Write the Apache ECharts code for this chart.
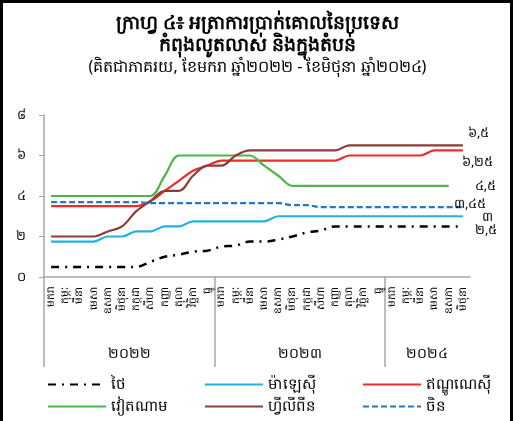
<!DOCTYPE html>
<html>
<head>
<meta charset="utf-8">
<script src="https://cdn.jsdelivr.net/npm/echarts@6/dist/echarts.min.js"></script>
<style>
  html, body { margin: 0; padding: 0; background: #fff; }
  #chart { width: 515px; height: 421px; }
</style>
</head>
<body>
<div id="chart"></div>
<script>
  // months Jan 2022 .. Jun 2024
  const monthNames = ['មករា', 'កុម្ភៈ', 'មីនា', 'មេសា', 'ឧសភា', 'មិថុនា', 'កក្កដា', 'សីហា', 'កញ្ញា', 'តុលា', 'វិច្ឆិកា', 'ធ្នូ']
  const categories = [...monthNames, ...monthNames, ...monthNames.slice(0, 6)]
  const yearLabels = ['២០២២', '២០២៣', '២០២៤']
  const yTickLabels = ['០', '២', '៤', '៦', '៨']

  const seriesNames = ['ថៃ', 'ម៉ាឡេស៊ី', 'ឥណ្ឌូណេស៊ី', 'វៀតណាម', 'ហ្វីលីពីន', 'ចិន']
  const endLabels = ['២,៥', '៣', '៦,២៥', '៤,៥', '៦,៥', '៣,៤៥']

  const thailand = [0.5, 0.5, 0.5, 0.5, 0.5, 0.5, 0.5, 0.75, 1.0, 1.1, 1.25, 1.3,
    1.5, 1.55, 1.75, 1.75, 1.85, 2.0, 2.2, 2.3, 2.5, 2.5, 2.5, 2.5,
    2.5, 2.5, 2.5, 2.5, 2.5, 2.5]
  const malaysia = [1.75, 1.75, 1.75, 1.75, 2.0, 2.0, 2.25, 2.25, 2.5, 2.5, 2.75, 2.75,
    2.75, 2.75, 2.75, 2.75, 3.0, 3.0, 3.0, 3.0, 3.0, 3.0, 3.0, 3.0,
    3.0, 3.0, 3.0, 3.0, 3.0, 3.0]
  const indonesia = [3.5, 3.5, 3.5, 3.5, 3.5, 3.5, 3.5, 3.75, 4.25, 4.75, 5.25, 5.5,
    5.75, 5.75, 5.75, 5.75, 5.75, 5.75, 5.75, 5.75, 5.75, 6.0, 6.0, 6.0,
    6.0, 6.0, 6.0, 6.25, 6.25, 6.25]
  const vietnam = [4.0, 4.0, 4.0, 4.0, 4.0, 4.0, 4.0, 4.0, 5.0, 6.0, 6.0, 6.0,
    6.0, 6.0, 6.0, 5.5, 5.0, 4.5, 4.5, 4.5, 4.5, 4.5, 4.5, 4.5,
    4.5, 4.5, 4.5, 4.5, 4.5]
  const philippines = [2.0, 2.0, 2.0, 2.0, 2.25, 2.5, 3.25, 3.75, 4.25, 4.25, 5.0, 5.5,
    5.5, 6.0, 6.25, 6.25, 6.25, 6.25, 6.25, 6.25, 6.25, 6.5, 6.5, 6.5,
    6.5, 6.5, 6.5, 6.5, 6.5, 6.5]
  const china = [3.7, 3.7, 3.7, 3.7, 3.7, 3.7, 3.7, 3.65, 3.65, 3.65, 3.65, 3.65,
    3.65, 3.65, 3.65, 3.65, 3.65, 3.55, 3.55, 3.45, 3.45, 3.45, 3.45, 3.45,
    3.45, 3.45, 3.45, 3.45, 3.45, 3.45]

  const seriesData = [thailand, malaysia, indonesia, vietnam, philippines, china]
  const colors = ['#000000', '#1eb1ea', '#f02a2a', '#4db748', '#8e3b3b', '#2477c4']
  const dashes = [[8, 6, 2, 6], 'solid', 'solid', 'solid', 'solid', [6, 3]]
  const labelOffsets = [[4, 4], [11, 1], [-9, 12], [18, 0], [-3, -12], [-17, -3]]

  const font = "'Noto Sans', 'DejaVu Sans', sans-serif"
  const gray = '#a6a6a6'

  const chart = echarts.init(document.getElementById('chart'))

  function legendColumn(names, left) {
    return {
      orient: 'vertical',
      left: left,
      top: 372,
      itemWidth: 58,
      itemHeight: 14,
      itemGap: 7,
      data: names,
      itemStyle: { opacity: 0 },
      textStyle: { fontFamily: font, fontSize: 15, color: '#000' },
    }
  }

  chart.setOption({
    animation: false,
    color: colors,
    title: {
      text: 'ក្រាហ្វ ៤៖ អត្រាការប្រាក់គោលនៃប្រទេស\nកំពុងលូតលាស់ និងក្នុងតំបន់',
      subtext: '(គិតជាភាគរយ, ខែមករា ឆ្នាំ២០២២ - ខែមិថុនា ឆ្នាំ២០២៤)',
      left: 'center',
      top: 8,
      itemGap: 2,
      textStyle: { fontFamily: font, fontSize: 19, fontWeight: 'bold', color: '#000', lineHeight: 22 },
      subtextStyle: { fontFamily: font, fontSize: 16, color: '#000' },
    },
    graphic: [
      {
        type: 'rect',
        shape: { x: 1.5, y: 1.5, width: 510, height: 440 },
        style: { fill: 'none', stroke: '#000', lineWidth: 3 },
        silent: true,
      },
    ],
    legend: [
      legendColumn([seriesNames[0], seriesNames[3]], 42),
      legendColumn([seriesNames[1], seriesNames[4]], 199),
      legendColumn([seriesNames[2], seriesNames[5]], 357),
    ],
    grid: { left: 44, right: 45, top: 115, bottom: 144 },
    xAxis: [
      {
        type: 'category',
        data: categories,
        boundaryGap: true,
        axisLine: { lineStyle: { color: gray, width: 1.5 } },
        axisTick: { show: false },
        axisLabel: {
          interval: 0,
          rotate: 90,
          margin: 10,
          fontFamily: font,
          fontSize: 10.5,
          color: '#000',
        },
      },
      {
        type: 'value',
        min: 0,
        max: categories.length,
        position: 'bottom',
        axisLine: { show: false },
        splitLine: { show: false },
        axisTick: {
          show: true,
          customValues: [0, 12, 24],
          length: 90,
          lineStyle: { color: gray, width: 1.5 },
        },
        axisLabel: {
          customValues: [6, 18, 27],
          margin: 70,
          fontFamily: font,
          fontSize: 14,
          color: '#000',
          formatter: (v) => yearLabels[v < 12 ? 0 : v < 24 ? 1 : 2],
        },
      },
    ],
    yAxis: {
      type: 'value',
      min: 0,
      max: 8,
      interval: 2,
      axisLine: { show: true, lineStyle: { color: gray, width: 1.5 } },
      axisTick: { show: true, length: 5, lineStyle: { color: gray } },
      splitLine: { show: false },
      axisLabel: {
        margin: 18,
        fontFamily: font,
        fontSize: 13,
        color: '#000',
        formatter: (v) => yTickLabels[v / 2],
      },
    },
    series: seriesNames.map((name, i) => ({
      name: name,
      type: 'line',
      data: seriesData[i],
      smooth: 0.35,
      symbol: 'none',
      lineStyle: { width: i === 0 ? 2.5 : 2.2, type: dashes[i], color: colors[i] },
      endLabel: {
        show: true,
        formatter: endLabels[i],
        offset: labelOffsets[i],
        fontFamily: font,
        fontSize: 13,
        color: '#000',
      },
    })),
  })
</script>
</body>
</html>
